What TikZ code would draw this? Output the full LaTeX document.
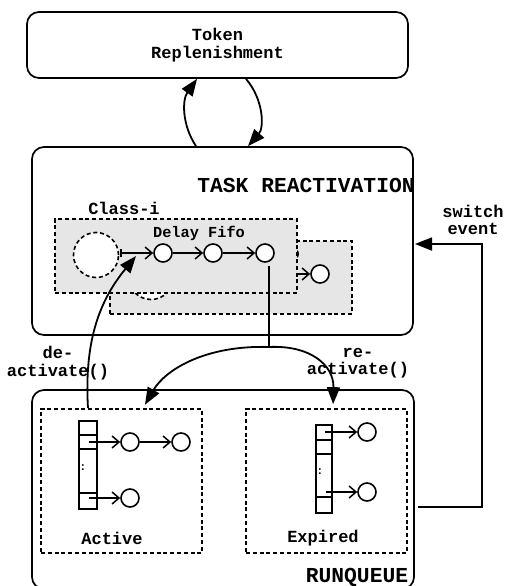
\documentclass[tikz,border=0pt]{standalone}
\usepackage{fontspec}
\setmonofont{Liberation Mono}
\usetikzlibrary{arrows.meta}
\definecolor{fillgray}{HTML}{E6E6E6}
\begin{document}
\begin{tikzpicture}[x=1pt,y=-1pt,
  bigbox/.style={draw, line width=1.7pt, rounded corners=12pt, inner sep=0},
  dashbox/.style={draw, dash pattern=on 4pt off 2.8pt, line width=1.7pt, inner sep=0},
  lbl/.style={font=\ttfamily\bfseries\fontsize{17}{17.5}\selectfont, align=center, inner sep=0},
  biglbl/.style={font=\ttfamily\bfseries\fontsize{21.3}{22}\selectfont, inner sep=0},
  smlbl/.style={font=\ttfamily\bfseries\fontsize{15.3}{16}\selectfont, inner sep=0},
  conn/.style={line width=1.8pt, -{Triangle[length=17pt,width=13pt]}},
  ptr/.style={line width=1.5pt, -{Straight Barb[length=7pt,width=12pt]}},
  elem/.style={circle, draw, fill=white, line width=1.6pt, minimum size=18pt, inner sep=0},
  dcirc/.style={circle, draw, fill=white, dash pattern=on 4pt off 2.8pt, line width=1.6pt, minimum size=45pt, inner sep=0},
  arr/.style={draw, line width=1.5pt}
]
\useasboundingbox (0,0) rectangle (505,586);
\clip (0,0) rectangle (505,586);

% ---------- Token replenishment
\node[bigbox, minimum width=381pt, minimum height=66pt, lbl] (tok) at (217.5,45) {Token\\Replenishment};

% ---------- Task reactivation
\node[bigbox, minimum width=381pt, minimum height=188pt] (task) at (222.5,241) {};
\node[biglbl] (tasklbl) at (306,185) {TASK REACTIVATION};
\node[lbl] (classlbl) at (124,208) {Class-i};

% back class box (shifted copy)
\node[dashbox, fill=fillgray, minimum width=242pt, minimum height=73pt] (cback) at (231,277.5) {};
\node[dcirc] (bdc) at (151,277) {};
\node[elem] (b2) at (268,274) {};
\node[elem] (b3) at (320,274) {};
\draw[ptr] (b2) -- (b3);
\node[smlbl] (bfifo) at (254,254) {Delay Fifo};

% front class box
\node[dashbox, fill=fillgray, minimum width=242pt, minimum height=74pt] (cfront) at (176,256) {};
\node[dcirc] (fdc) at (96,255) {};
\node[elem] (f1) at (163,253) {};
\node[elem] (f2) at (213,253) {};
\node[elem] (f3) at (265,253) {};
\node[smlbl] (ffifo) at (199,233) {Delay Fifo};
\draw[line width=1.5pt, {Bar[width=8pt]}-{Straight Barb[length=7pt,width=12pt]}] (120,253) -- (f1);
\draw[ptr] (f1) -- (f2);
\draw[ptr] (f2) -- (f3);
\coordinate (dtip) at (136,256);

% ---------- Runqueue
\node[bigbox, minimum width=382pt, minimum height=199pt] (rq) at (223,489.5) {};
\node[biglbl] (rqlbl) at (357,577) {RUNQUEUE};
\node[dashbox, minimum width=161pt, minimum height=144pt] (act) at (121.5,481) {};
\node[dashbox, minimum width=161pt, minimum height=144pt] (exp) at (326.5,481) {};
\node[lbl] (actlbl) at (112,538) {Active};
\node[lbl] (explbl) at (323,538) {Expired};

% active array
\draw[arr] (79,421) rectangle (97,509);
\draw[arr] (79,435) -- (97,435);
\draw[arr] (79,449) -- (97,449);
\draw[arr] (79,493) -- (97,493);
\node[font=\ttfamily\bfseries\fontsize{11}{11}\selectfont, inner sep=0] (adots) at (83,468) {:};
\node[elem] (a1) at (130,442) {};
\node[elem] (a2) at (181,442) {};
\node[elem] (a3) at (130,498) {};
\draw[ptr] (89,442) -- (a1);
\draw[ptr] (a1) -- (a2);
\draw[ptr] (89,498) -- (a3);

% expired array
\draw[arr] (316,425) rectangle (332,513);
\draw[arr] (316,440) -- (332,440);
\draw[arr] (316,454) -- (332,454);
\draw[arr] (316,497) -- (332,497);
\node[font=\ttfamily\bfseries\fontsize{11}{11}\selectfont, inner sep=0] (edots) at (320,472) {:};
\node[elem] (e1) at (367,432) {};
\node[elem] (e2) at (367,492) {};
\draw[ptr] (325,432) -- (e1);
\draw[ptr] (326,492) -- (e2);

% ---------- connectors
\draw[conn] ([xshift=-26.5pt]task.north) .. controls (182,125) and (182,100) .. ([xshift=-20.5pt]tok.south);
\draw[conn] ([xshift=28.5pt]tok.south) .. controls (264,100) and (264,128) .. ([xshift=25.5pt]task.north);

\coordinate (f3b) at (269,266);
\coordinate (junc) at (269,347);
\draw[line width=1.8pt] (f3b) -- (junc);
\draw[conn, shorten >=4pt] (junc) .. controls (205,345) and (165,370) .. ([xshift=21.5pt]act.north);
\draw[conn, shorten >=4pt] (junc) .. controls (310,345) and (334,365) .. ([xshift=6.5pt]exp.north);

\draw[conn] ([xshift=-33.5pt]act.north) .. controls (84,340) and (100,300) .. (dtip);

\coordinate (sw1) at (418,507);
\coordinate (sw2) at (415,244);
\draw[conn] (sw1) -- (482,507) -- (482,244) -- (sw2);

% ---------- labels
\node[lbl] (swlbl) at (473,220) {switch\\event};
\node[lbl] (delbl) at (58,363) {de-\\activate()};
\node[lbl] (relbl) at (358,363) {re-\\activate()};
\end{tikzpicture}
\end{document}
